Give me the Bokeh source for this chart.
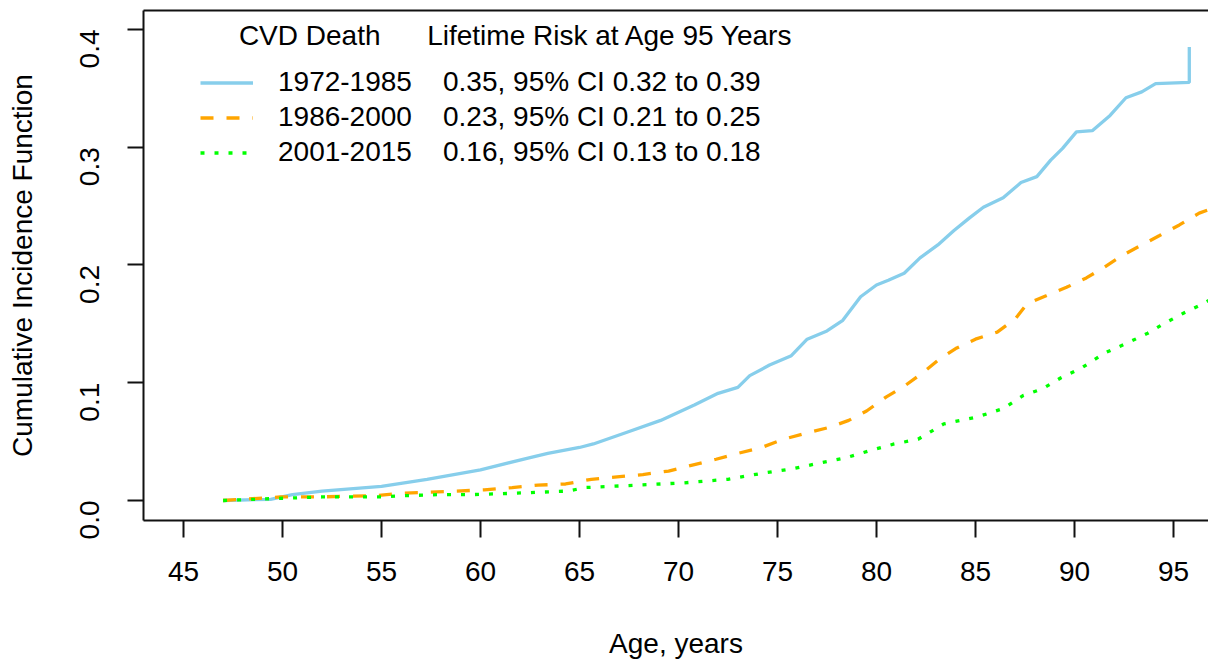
import math
from bokeh.plotting import figure
from bokeh.models import Range1d, FixedTicker, LinearAxis, Legend, LegendItem, PrintfTickFormatter
from bokeh.embed import file_html
from bokeh.resources import INLINE

# ---- data ----
x_ticks = [45, 50, 55, 60, 65, 70, 75, 80, 85, 90, 95]
y_ticks = [0.0, 0.1, 0.2, 0.3, 0.4]

series_names = ["1972-1985", "1986-2000", "2001-2015"]
series_ci = ["0.35, 95% CI 0.32 to 0.39",
             "0.23, 95% CI 0.21 to 0.25",
             "0.16, 95% CI 0.13 to 0.18"]

age_a = [47.0, 49.4, 50.5, 52.0, 55.0, 57.3, 60.0, 62.4, 63.4, 65.0, 65.7, 67.4, 69.1,
         70.8, 72.0, 73.0, 73.6, 74.6, 75.7, 76.5, 77.5, 78.3, 79.2, 80.0, 80.6, 81.4,
         82.2, 83.1, 83.9, 84.7, 85.4, 86.4, 87.3, 88.1, 88.8, 89.4, 90.1, 90.9, 91.8,
         92.6, 93.4, 94.1, 95.8, 95.8]
cif_a = [0.0, 0.001, 0.005, 0.008, 0.012, 0.018, 0.026, 0.036, 0.040, 0.045, 0.048, 0.058,
         0.068, 0.081, 0.091, 0.096, 0.106, 0.115, 0.123, 0.137, 0.144, 0.153, 0.173, 0.183,
         0.187, 0.193, 0.206, 0.217, 0.229, 0.240, 0.249, 0.257, 0.270, 0.275, 0.289, 0.299,
         0.313, 0.314, 0.327, 0.342, 0.347, 0.354, 0.355, 0.385]

age_b = [47.0, 49.9, 51.7, 54.6, 55.9, 57.3, 58.8, 60.2, 61.6, 62.9, 64.3, 65.6, 66.9,
         68.2, 69.5, 70.7, 71.9, 73.0, 74.2, 75.3, 76.4, 77.6, 78.6, 79.5, 80.5, 81.4,
         82.3, 83.1, 84.0, 85.0, 86.1, 87.0, 87.6, 88.6, 89.6, 90.6, 91.5, 92.4, 93.4,
         94.3, 95.3, 96.3, 96.8]
cif_b = [0.0, 0.003, 0.003, 0.004, 0.006, 0.007, 0.008, 0.009, 0.011, 0.013, 0.014, 0.018,
         0.020, 0.022, 0.025, 0.030, 0.035, 0.040, 0.045, 0.052, 0.057, 0.062, 0.068, 0.076,
         0.088, 0.097, 0.108, 0.119, 0.129, 0.137, 0.143, 0.154, 0.167, 0.174, 0.181, 0.189,
         0.198, 0.208, 0.217, 0.225, 0.234, 0.244, 0.247]

age_c = [47.0, 50.2, 52.0, 55.0, 56.0, 58.0, 59.6, 61.5, 64.4, 65.3, 67.9, 70.3, 72.5,
         74.2, 75.8, 76.9, 78.4, 79.8, 80.9, 82.1, 83.4, 85.1, 86.4, 87.4, 88.4, 89.3,
         90.4, 91.5, 92.7, 93.7, 94.5, 95.5, 96.5, 96.8]
cif_c = [0.0, 0.002, 0.003, 0.003, 0.004, 0.005, 0.005, 0.006, 0.008, 0.011, 0.013, 0.015,
         0.018, 0.023, 0.027, 0.031, 0.036, 0.043, 0.048, 0.052, 0.065, 0.071, 0.078, 0.089,
         0.095, 0.104, 0.113, 0.125, 0.134, 0.142, 0.150, 0.159, 0.167, 0.170]

FONT = "Liberation Sans"
FS = "28px"
NB = "\u00a0"

p = figure(width=1208, height=665, output_backend="svg", toolbar_location=None,
           x_range=Range1d(42.98, 96.77), y_range=Range1d(-0.017, 0.4161),
           min_border_left=143, min_border_right=0, min_border_top=10, min_border_bottom=145)
p.outline_line_color = None
p.xgrid.visible = False
p.ygrid.visible = False
p.background_fill_color = "white"

r1 = p.line(age_a, cif_a, line_color="#87CEEB", line_width=3.3)
r2 = p.line(age_b, cif_b, line_color="#FFA500", line_width=3.3, line_dash="13 13")
r3 = p.line(age_c, cif_c, line_color="#00FF00", line_width=3.3, line_dash="4 10")

for ax in (p.xaxis[0], p.yaxis[0]):
    ax.axis_line_width = 2
    ax.axis_line_color = "#111111"
    ax.major_tick_line_width = 2
    ax.major_tick_line_color = "#111111"
    ax.major_tick_in = 0
    ax.minor_tick_out = 0
    ax.minor_tick_in = 0
    ax.major_label_text_font = FONT
    ax.major_label_text_font_size = FS
    ax.major_label_text_color = "#000000"
    ax.axis_label_text_font = FONT
    ax.axis_label_text_font_size = FS
    ax.axis_label_text_font_style = "normal"
    ax.axis_label_text_color = "#000000"

p.xaxis.ticker = FixedTicker(ticks=x_ticks)
p.xaxis.major_tick_out = 17
p.xaxis.major_label_standoff = 24
p.xaxis.axis_label = "Age, years"
p.xaxis.axis_label_standoff = 44

p.yaxis.ticker = FixedTicker(ticks=y_ticks)
p.yaxis.formatter = PrintfTickFormatter(format="%.1f")
p.yaxis.major_tick_out = 16
p.yaxis.major_label_standoff = 38
p.yaxis.major_label_orientation = math.pi / 2
p.yaxis.axis_label = "Cumulative Incidence Function"
p.yaxis.axis_label_standoff = 30

top = LinearAxis(ticker=FixedTicker(ticks=[]), major_tick_out=0, major_tick_in=0,
                 minor_tick_out=0, minor_tick_in=0, axis_line_width=2,
                 axis_line_color="#111111", major_label_text_font_size="0px",
                 major_label_standoff=0)
p.add_layout(top, "above")

items = [LegendItem(label=series_names[i] + NB * 4 + series_ci[i], renderers=[r])
         for i, r in enumerate([r1, r2, r3])]
legend = Legend(items=items,
                title=NB * 5 + "CVD Death" + NB * 6 + "Lifetime Risk at Age 95 Years",
                location=(57, 352))
legend.title_text_font = FONT
legend.title_text_font_size = FS
legend.title_text_font_style = "normal"
legend.title_text_color = "#000000"
legend.title_standoff = 14
legend.label_text_font = FONT
legend.label_text_font_size = FS
legend.label_text_color = "#000000"
legend.glyph_width = 53
legend.glyph_height = 31
legend.label_height = 31
legend.label_standoff = 25
legend.spacing = 3
legend.padding = 0
legend.margin = 0
legend.border_line_color = None
legend.background_fill_alpha = 0
p.add_layout(legend)

open("out.html", "w").write(file_html(p, INLINE))
